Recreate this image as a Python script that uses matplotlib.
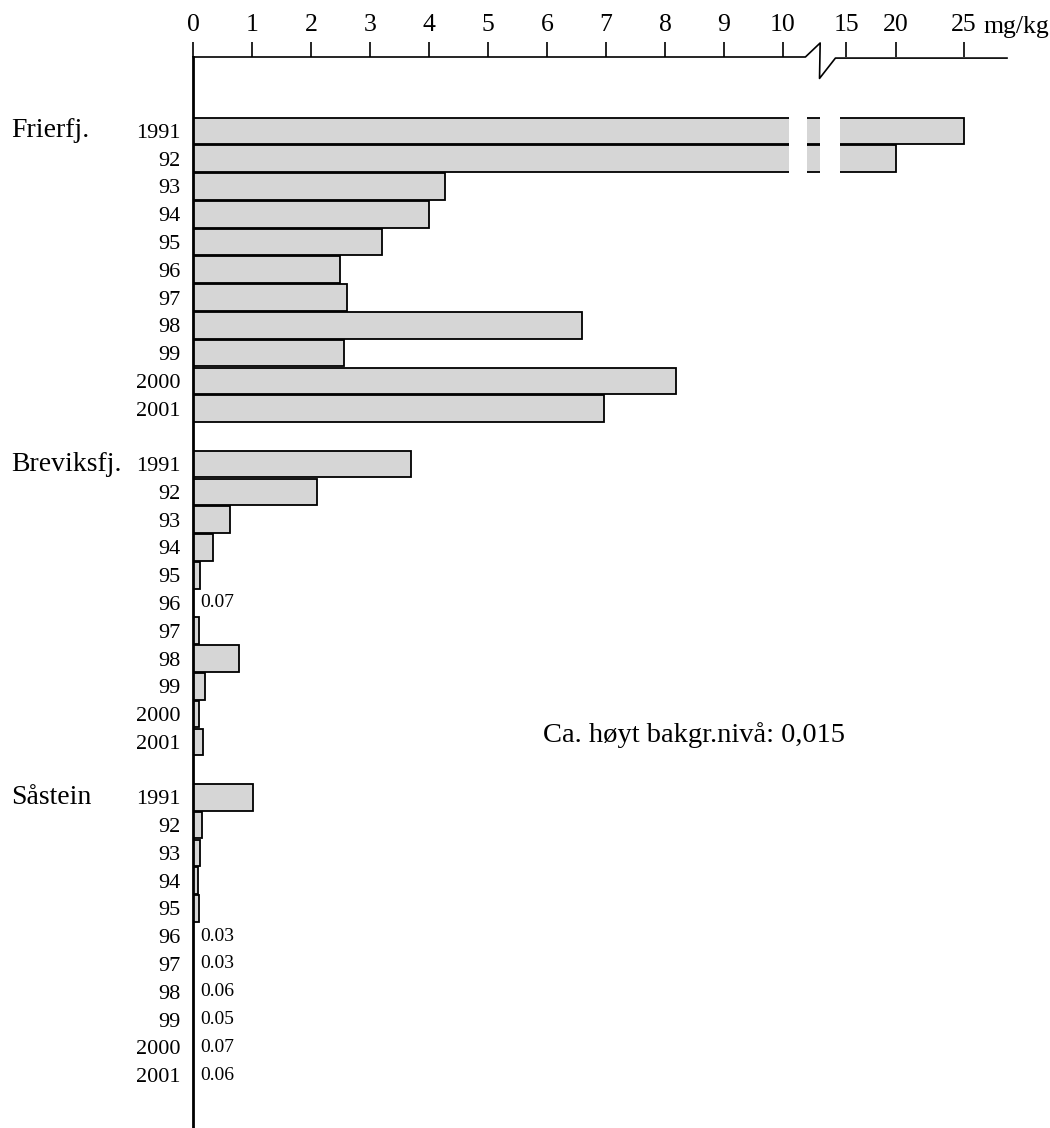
import numpy as np
import matplotlib
matplotlib.use('Agg')
from matplotlib import pyplot as plt
from matplotlib import transforms

plt.rcParams['font.family'] = ['Liberation Serif', 'DejaVu Serif']

# data (mg/kg)
stations = ['Frierfj.', 'Breviksfj.', 'Såstein']
years = ['1991', '92', '93', '94', '95', '96', '97', '98', '99', '2000', '2001']
frierfj = [25.0, 20.0, 4.27, 3.99, 3.20, 2.48, 2.61, 6.60, 2.56, 8.18, 6.96]
breviksfj = [3.69, 2.10, 0.62, 0.33, 0.11, 0.07, 0.10, 0.77, 0.19, 0.10, 0.16]
saastein = [1.02, 0.14, 0.12, 0.08, 0.10, 0.03, 0.03, 0.06, 0.05, 0.07, 0.06]
x_ticks = [0, 1, 2, 3, 4, 5, 6, 7, 8, 9, 10, 15, 20, 25]
note = 'Ca. høyt bakgr.nivå: 0,015'

# broken x axis: 0-10 linear, compressed above 10
xp = [0, 10, 15, 20, 25, 28]
fp = [0, 10, 11.07, 11.92, 13.07, 13.8]

def forward(v):
    return np.interp(v, xp, fp)

def inverse(v):
    return np.interp(v, fp, xp)

fig = plt.figure(figsize=(10.5, 11.28), dpi=100)
W, H = 1050, 1128
ax = fig.add_axes([193.3 / W, 0, (1007 - 193.3) / W, 1 - 57 / H])
ax.set_xscale('function', functions=(forward, inverse))
ax.set_xlim(0, 28)

row_h = 27.8
ax.set_ylim(34 + (1128 - 1075) / row_h, -(131 - 57) / row_h)

fill = '#d6d6d6'
series = [frierfj, breviksfj, saastein]
rows_all = []
labels_all = []
trans = transforms.blended_transform_factory(fig.transFigure, ax.transData)
for g, vals in enumerate(series):
    rows = np.arange(len(vals)) + g * (len(years) + 1)
    vals = np.array(vals)
    bar_mask = vals >= 0.075
    ax.barh(rows[bar_mask], vals[bar_mask], height=0.96, color=fill,
            edgecolor='black', linewidth=1.3, zorder=2)
    for r, v, b in zip(rows, vals, bar_mask):
        if not b:
            ax.annotate(f'{v:.2f}', xy=(0, r), xytext=(5, 0), textcoords='offset points',
                        ha='left', va='center', fontsize=14)
        if v > 10:
            # white gaps marking the break inside long bars
            for a, b2 in [(10.45, 11.9), (12.95, 14.5)]:
                ax.barh(r, b2 - a, left=a, height=1.0, color='white',
                        edgecolor='none', zorder=3)
    rows_all.extend(rows)
    labels_all.extend(years)
    ax.text(11 / W, rows[0], stations[g], transform=trans, ha='left', va='center',
            fontsize=20)

ax.set_yticks(rows_all)
ax.set_yticklabels(labels_all, fontsize=16)
ax.tick_params(axis='y', length=0, pad=9)

ax.xaxis.tick_top()
ax.set_xticks(x_ticks)
ax.set_xticklabels([str(t) for t in x_ticks], fontsize=18.5)
ax.tick_params(axis='x', direction='out', length=11, width=1.2, pad=4)
ax.minorticks_off()

for s in ['top', 'right', 'bottom']:
    ax.spines[s].set_visible(False)
ax.spines['left'].set_linewidth(2)

# top axis line with a zigzag break
xt = ax.get_xaxis_transform()
ax.plot([0, 11.78, 12.95, 12.9, 14.16, 28], [1, 1, 1.0131, 0.980, 0.999, 0.999],
        color='black', lw=1.2, transform=xt, clip_on=False, zorder=4)

ax.text((983 - 193.3) / (1007 - 193.3), 1 + 24 / 1071, 'mg/kg', transform=ax.transAxes,
        ha='left', va='baseline', fontsize=18.5)

ax.text(5.93, 21.75, note, ha='left', va='center', fontsize=20.5)

fig.savefig('out.png', dpi=100)
